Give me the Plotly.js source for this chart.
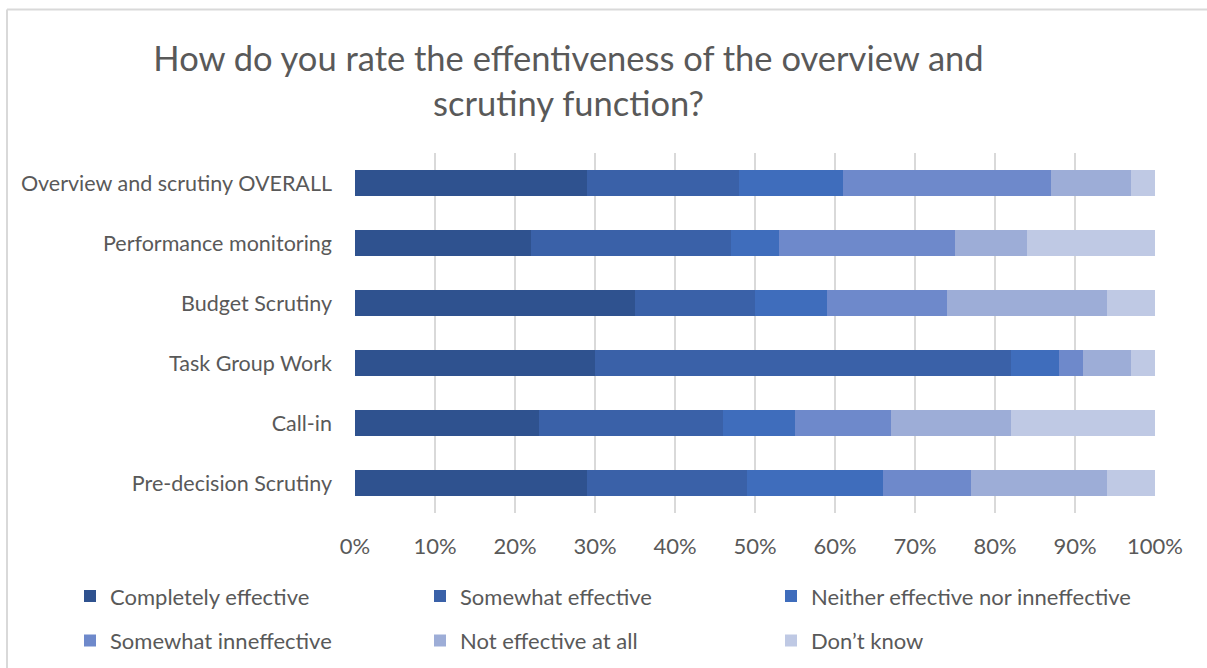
<!DOCTYPE html>
<html>
<head>
<meta charset="utf-8">
<script src="https://cdn.plot.ly/plotly-3.0.1.min.js"></script>
<style>html,body{margin:0;padding:0;background:#fff;}#chart{width:1207px;height:668px;}</style>
</head>
<body>
<div id="chart"></div>
<script>
const categories = [
  "Overview and scrutiny OVERALL",
  "Performance monitoring",
  "Budget Scrutiny",
  "Task Group Work",
  "Call-in",
  "Pre-decision Scrutiny"
];
const seriesNames = [
  "Completely effective",
  "Somewhat effective",
  "Neither effective nor inneffective",
  "Somewhat inneffective",
  "Not effective at all",
  "Don\u2019t know"
];
const completelyEffective = [29, 22, 35, 30, 23, 29];
const somewhatEffective   = [19, 25, 15, 52, 23, 20];
const neither             = [13, 6, 9, 6, 9, 17];
const somewhatIneffective = [26, 22, 15, 3, 12, 11];
const notEffective        = [10, 9, 20, 6, 15, 17];
const dontKnow            = [3, 16, 6, 3, 18, 6];
const tickVals = [0, 10, 20, 30, 40, 50, 60, 70, 80, 90, 100];

const seriesValues = [completelyEffective, somewhatEffective, neither, somewhatIneffective, notEffective, dontKnow];
const colors = ["#2F528F", "#3A61A8", "#3F6DBC", "#6E89CB", "#9DADD7", "#BFC9E4"];
// legend column for each series (3 columns, 2 rows)
const legendIds = ["legend", "legend2", "legend3", "legend", "legend2", "legend3"];

const FONT = "Lato, 'Open Sans', sans-serif";
const traces = seriesNames.map((name, i) => ({
  type: "bar",
  orientation: "h",
  name: name,
  x: seriesValues[i],
  y: categories,
  legend: legendIds[i],
  legendgroup: "g" + i,
  marker: {color: colors[i], line: {width: 0}},
  hoverinfo: "name+x"
}));

function legendAt(xpx) {
  return {
    orientation: "v",
    traceorder: "grouped",
    xref: "container", yref: "container",
    x: xpx / 1207, xanchor: "left",
    y: 0.139, yanchor: "top",
    itemwidth: 30,
    tracegroupgap: 13,
    font: {family: FONT, size: 22, color: "#595959"},
    bgcolor: "rgba(0,0,0,0)"
  };
}

const layout = {
  width: 1207,
  height: 668,
  margin: {l: 355, r: 52, t: 153, b: 155, autoexpand: false},
  paper_bgcolor: "#ffffff",
  plot_bgcolor: "#ffffff",
  barmode: "stack",
  bargap: 0.58,
  font: {family: FONT, color: "#595959", size: 21},
  title: {
    text: "How do you rate the effentiveness of the overview and<br>scrutiny function?",
    font: {family: FONT, size: 34.5, color: "#595959"},
    xref: "container", yref: "container",
    x: 0.471, xanchor: "center",
    y: 0.893, yanchor: "top"
  },
  xaxis: {
    range: [0, 100],
    tickvals: tickVals,
    ticktext: tickVals.map(v => v + "%"),
    showgrid: true,
    gridcolor: "#D9D9D9",
    gridwidth: 2,
    zeroline: false,
    showline: false,
    ticks: "",
    tickfont: {family: FONT, size: 22, color: "#595959"},
    ticklabelstandoff: 18,
    automargin: false,
    fixedrange: true
  },
  yaxis: {
    autorange: "reversed",
    showgrid: false,
    zeroline: false,
    showline: false,
    ticks: "",
    tickfont: {family: FONT, size: 21.5, color: "#595959"},
    ticklabelstandoff: 22,
    automargin: false,
    fixedrange: true
  },
  showlegend: true,
  legend: legendAt(70),
  legend2: legendAt(420),
  legend3: legendAt(771),
  shapes: [
    {type: "line", xref: "paper", yref: "paper",
     x0: (7 - 355) / 800, x1: (1207 - 355) / 800,
     y0: (513 - 9.5) / 360, y1: (513 - 9.5) / 360,
     line: {color: "#D9D9D9", width: 2}},
    {type: "line", xref: "paper", yref: "paper",
     x0: (7 - 355) / 800, x1: (7 - 355) / 800,
     y0: (513 - 9.5) / 360, y1: (513 - 670) / 360,
     line: {color: "#D9D9D9", width: 2}}
  ]
};

Plotly.newPlot("chart", traces, layout, {displayModeBar: false, staticPlot: true});
</script>
</body>
</html>
